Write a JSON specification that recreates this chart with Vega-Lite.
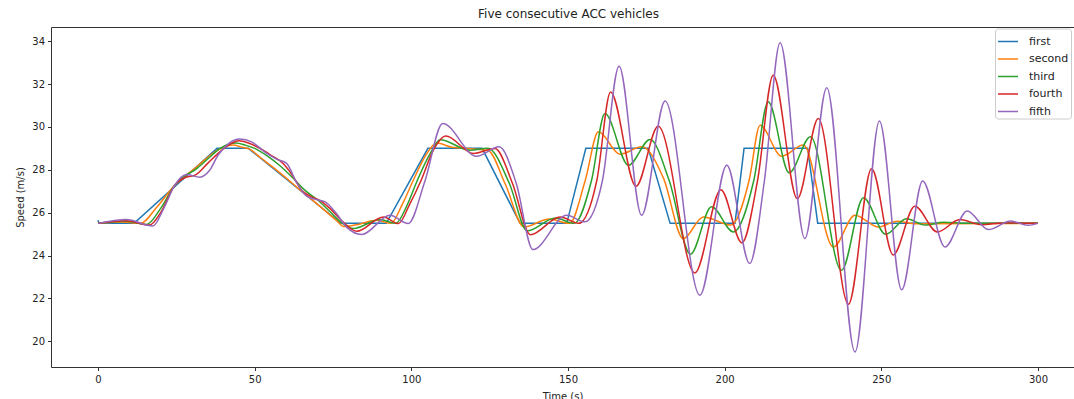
{
"$schema":"https://vega.github.io/schema/vega-lite/v6.json",
"width":1023,"height":340,
"autosize":{"type":"none"},
"padding":{"left":51,"top":27,"right":0,"bottom":32},
"background":"white",
"title":{"text":"Five consecutive ACC vehicles","font":"DejaVu Sans","fontSize":12,"fontWeight":"normal","color":"#222","offset":6,"dx":6},
"config":{
 "view":{"stroke":"#333","strokeWidth":1},
 "axis":{"grid":false,"domain":false,"tickColor":"#333","tickSize":3.5,"labelFont":"DejaVu Sans","labelFontSize":10,"labelColor":"#222","titleFont":"DejaVu Sans","titleFontSize":10,"titleFontWeight":"normal","titleColor":"#222"}
},
"data":{"values":[
{"s":"first","t":0,"v":25.65},{"s":"first","t":0.3,"v":25.5},{"s":"first","t":11.5,"v":25.5},{"s":"first","t":38,"v":29},{"s":"first","t":48,"v":29},{"s":"first","t":77.5,"v":25.5},{"s":"first","t":92,"v":25.5},{"s":"first","t":105.3,"v":29},{"s":"first","t":122.6,"v":29},{"s":"first","t":134.7,"v":25.5},{"s":"first","t":149.6,"v":25.5},{"s":"first","t":155.7,"v":29},{"s":"first","t":175.6,"v":29},{"s":"first","t":182.6,"v":25.5},{"s":"first","t":203.3,"v":25.5},{"s":"first","t":206.2,"v":29},{"s":"first","t":226.5,"v":29},{"s":"first","t":229.7,"v":25.5},{"s":"first","t":300,"v":25.5},
{"s":"second","t":0,"v":25.5},{"s":"second","t":8,"v":25.56},{"s":"second","t":13.5,"v":25.5},{"s":"second","t":19,"v":26.3},{"s":"second","t":24.5,"v":27.28},{"s":"second","t":28,"v":27.72},{"s":"second","t":32,"v":28.2},{"s":"second","t":36,"v":28.7},{"s":"second","t":40,"v":29.05},{"s":"second","t":43,"v":29.15},{"s":"second","t":46,"v":29.05},{"s":"second","t":48.5,"v":28.95},{"s":"second","t":52,"v":28.55},{"s":"second","t":56,"v":28.1},{"s":"second","t":60,"v":27.62},{"s":"second","t":64,"v":27.12},{"s":"second","t":68,"v":26.64},{"s":"second","t":72,"v":26.15},{"s":"second","t":76,"v":25.65},{"s":"second","t":78.5,"v":25.35},{"s":"second","t":83,"v":25.45},{"s":"second","t":88.9,"v":25.65},{"s":"second","t":93.5,"v":25.5},{"s":"second","t":97,"v":26.35},{"s":"second","t":100.6,"v":27.5},{"s":"second","t":104.5,"v":28.65},{"s":"second","t":108.1,"v":29.25},{"s":"second","t":113,"v":29.05},{"s":"second","t":119,"v":28.98},{"s":"second","t":124.5,"v":28.9},{"s":"second","t":129.9,"v":27.36},{"s":"second","t":136,"v":25.33},{"s":"second","t":144,"v":25.7},{"s":"second","t":150.5,"v":25.5},{"s":"second","t":155.5,"v":27.5},{"s":"second","t":159.7,"v":29.77},{"s":"second","t":166.6,"v":28.73},{"s":"second","t":173.5,"v":29.07},{"s":"second","t":180.5,"v":27.6},{"s":"second","t":186.8,"v":24.79},{"s":"second","t":193.2,"v":25.8},{"s":"second","t":202,"v":25.42},{"s":"second","t":207.8,"v":27.5},{"s":"second","t":211.3,"v":30.08},{"s":"second","t":218.2,"v":28.63},{"s":"second","t":225.1,"v":29.15},{"s":"second","t":234.7,"v":24.4},{"s":"second","t":241.6,"v":25.88},{"s":"second","t":249.1,"v":25.33},{"s":"second","t":255,"v":25.6},{"s":"second","t":261,"v":25.48},{"s":"second","t":300,"v":25.5},
{"s":"third","t":0,"v":25.5},{"s":"third","t":9,"v":25.6},{"s":"third","t":15.5,"v":25.45},{"s":"third","t":20,"v":26.2},{"s":"third","t":24.5,"v":27.28},{"s":"third","t":28,"v":27.75},{"s":"third","t":31,"v":28.0},{"s":"third","t":35,"v":28.5},{"s":"third","t":39,"v":29.0},{"s":"third","t":44,"v":29.25},{"s":"third","t":47,"v":29.15},{"s":"third","t":50,"v":29.0},{"s":"third","t":54,"v":28.65},{"s":"third","t":58,"v":28.2},{"s":"third","t":62,"v":27.65},{"s":"third","t":66,"v":27.05},{"s":"third","t":70,"v":26.6},{"s":"third","t":74,"v":26.05},{"s":"third","t":78,"v":25.5},{"s":"third","t":81.5,"v":25.26},{"s":"third","t":90,"v":25.68},{"s":"third","t":95,"v":25.5},{"s":"third","t":98.5,"v":26.3},{"s":"third","t":101.9,"v":27.5},{"s":"third","t":106,"v":28.75},{"s":"third","t":109.2,"v":29.4},{"s":"third","t":118.7,"v":28.91},{"s":"third","t":124.4,"v":29.0},{"s":"third","t":131.3,"v":27.36},{"s":"third","t":137,"v":25.15},{"s":"third","t":146,"v":25.75},{"s":"third","t":152,"v":25.5},{"s":"third","t":157.5,"v":27.5},{"s":"third","t":161.8,"v":30.62},{"s":"third","t":169.3,"v":28.21},{"s":"third","t":176.2,"v":29.41},{"s":"third","t":182.3,"v":27.5},{"s":"third","t":189.1,"v":24.06},{"s":"third","t":195.8,"v":26.27},{"s":"third","t":202.8,"v":25.1},{"s":"third","t":209.3,"v":27.5},{"s":"third","t":213.9,"v":31.17},{"s":"third","t":220.6,"v":27.86},{"s":"third","t":227.4,"v":29.54},{"s":"third","t":237.3,"v":23.31},{"s":"third","t":244.3,"v":26.7},{"s":"third","t":251.4,"v":24.99},{"s":"third","t":258,"v":25.72},{"s":"third","t":264,"v":25.42},{"s":"third","t":270,"v":25.55},{"s":"third","t":277,"v":25.5},{"s":"third","t":300,"v":25.5},
{"s":"fourth","t":0,"v":25.5},{"s":"fourth","t":9,"v":25.62},{"s":"fourth","t":16.5,"v":25.42},{"s":"fourth","t":20,"v":26.0},{"s":"fourth","t":24.5,"v":27.28},{"s":"fourth","t":28,"v":27.65},{"s":"fourth","t":31,"v":27.75},{"s":"fourth","t":35,"v":28.3},{"s":"fourth","t":39,"v":28.85},{"s":"fourth","t":45,"v":29.35},{"s":"fourth","t":48,"v":29.25},{"s":"fourth","t":51,"v":29.05},{"s":"fourth","t":55,"v":28.7},{"s":"fourth","t":59,"v":28.3},{"s":"fourth","t":62,"v":27.75},{"s":"fourth","t":65,"v":27.05},{"s":"fourth","t":68,"v":26.75},{"s":"fourth","t":71,"v":26.55},{"s":"fourth","t":74,"v":26.2},{"s":"fourth","t":78,"v":25.6},{"s":"fourth","t":82.6,"v":25.13},{"s":"fourth","t":91.1,"v":25.8},{"s":"fourth","t":95.9,"v":25.49},{"s":"fourth","t":99.5,"v":26.4},{"s":"fourth","t":103.1,"v":27.5},{"s":"fourth","t":107,"v":28.9},{"s":"fourth","t":111,"v":29.57},{"s":"fourth","t":119.8,"v":28.76},{"s":"fourth","t":126.7,"v":28.99},{"s":"fourth","t":132.3,"v":27.36},{"s":"fourth","t":138,"v":24.97},{"s":"fourth","t":147.5,"v":25.8},{"s":"fourth","t":153.4,"v":25.5},{"s":"fourth","t":159.2,"v":27.5},{"s":"fourth","t":163.6,"v":31.63},{"s":"fourth","t":171.7,"v":27.23},{"s":"fourth","t":178.8,"v":30.03},{"s":"fourth","t":190.5,"v":23.19},{"s":"fourth","t":198.8,"v":27.07},{"s":"fourth","t":205.5,"v":24.59},{"s":"fourth","t":210.5,"v":27.5},{"s":"fourth","t":215.5,"v":32.41},{"s":"fourth","t":223.2,"v":26.65},{"s":"fourth","t":229.9,"v":30.39},{"s":"fourth","t":239.5,"v":21.73},{"s":"fourth","t":246.9,"v":28.05},{"s":"fourth","t":253.8,"v":24.03},{"s":"fourth","t":260.7,"v":26.3},{"s":"fourth","t":267.9,"v":25.1},{"s":"fourth","t":275.1,"v":25.68},{"s":"fourth","t":282,"v":25.44},{"s":"fourth","t":289,"v":25.52},{"s":"fourth","t":300,"v":25.5},
{"s":"fifth","t":0,"v":25.5},{"s":"fifth","t":9,"v":25.68},{"s":"fifth","t":17.5,"v":25.38},{"s":"fifth","t":21,"v":26.2},{"s":"fifth","t":24.5,"v":27.28},{"s":"fifth","t":28.3,"v":27.78},{"s":"fifth","t":32.5,"v":27.65},{"s":"fifth","t":35.5,"v":27.95},{"s":"fifth","t":38.4,"v":28.7},{"s":"fifth","t":41.5,"v":29.2},{"s":"fifth","t":45.3,"v":29.43},{"s":"fifth","t":49,"v":29.3},{"s":"fifth","t":53.5,"v":28.8},{"s":"fifth","t":57,"v":28.5},{"s":"fifth","t":60.2,"v":28.3},{"s":"fifth","t":63.4,"v":27.4},{"s":"fifth","t":66.6,"v":26.77},{"s":"fifth","t":69.5,"v":26.62},{"s":"fifth","t":72.5,"v":26.5},{"s":"fifth","t":76.1,"v":25.96},{"s":"fifth","t":79.5,"v":25.3},{"s":"fifth","t":84.2,"v":24.98},{"s":"fifth","t":93.2,"v":25.88},{"s":"fifth","t":99,"v":25.49},{"s":"fifth","t":104.4,"v":27.5},{"s":"fifth","t":110,"v":30.16},{"s":"fifth","t":120.8,"v":28.63},{"s":"fifth","t":128,"v":29.07},{"s":"fifth","t":133.5,"v":27.36},{"s":"fifth","t":138.8,"v":24.28},{"s":"fifth","t":149.6,"v":25.88},{"s":"fifth","t":155.4,"v":25.57},{"s":"fifth","t":161,"v":27.5},{"s":"fifth","t":166.3,"v":32.83},{"s":"fifth","t":173.5,"v":25.88},{"s":"fifth","t":181,"v":31.21},{"s":"fifth","t":192.1,"v":22.15},{"s":"fifth","t":200.7,"v":28.21},{"s":"fifth","t":208,"v":23.63},{"s":"fifth","t":212.7,"v":27.5},{"s":"fifth","t":217.7,"v":33.92},{"s":"fifth","t":225.6,"v":24.79},{"s":"fifth","t":232.6,"v":31.83},{"s":"fifth","t":241.6,"v":19.5},{"s":"fifth","t":249.4,"v":30.28},{"s":"fifth","t":256.5,"v":22.4},{"s":"fifth","t":263.2,"v":27.48},{"s":"fifth","t":270.3,"v":24.4},{"s":"fifth","t":277.4,"v":26.08},{"s":"fifth","t":284.2,"v":25.21},{"s":"fifth","t":291.3,"v":25.61},{"s":"fifth","t":296.8,"v":25.41},{"s":"fifth","t":300,"v":25.5}
]},
"encoding":{
 "x":{"field":"t","type":"quantitative","scale":{"domain":[-15,311.5],"nice":false,"zero":false},"axis":{"values":[0,50,100,150,200,250,300],"title":"Time (s)","labelPadding":4,"titlePadding":7}},
 "y":{"field":"v","type":"quantitative","scale":{"domain":[18.8,34.66],"nice":false,"zero":false},"axis":{"values":[20,22,24,26,28,30,32,34],"title":"Speed (m/s)","labelPadding":3,"titlePadding":6}},
 "color":{"field":"s","type":"nominal","scale":{"domain":["first","second","third","fourth","fifth"],"range":["#1f77b4","#ff7f0e","#2ca02c","#d62728","#9467bd"]},
  "legend":{"title":null,"orient":"none","legendX":944,"legendY":1.5,"fillColor":"white","strokeColor":"#cccccc","cornerRadius":3,"padding":2,"symbolType":"stroke","symbolStrokeWidth":1.5,"symbolSize":400,"labelFont":"DejaVu Sans","labelFontSize":11,"labelColor":"#222","rowPadding":1.5,"labelOffset":10}}
},
"layer":[
 {"transform":[{"filter":"datum.s == 'first'"}],"mark":{"type":"line","interpolate":"linear","strokeWidth":1.5,"clip":true}},
 {"transform":[{"filter":"datum.s != 'first'"}],"mark":{"type":"line","interpolate":"monotone","strokeWidth":1.5,"clip":true}}
]
}
